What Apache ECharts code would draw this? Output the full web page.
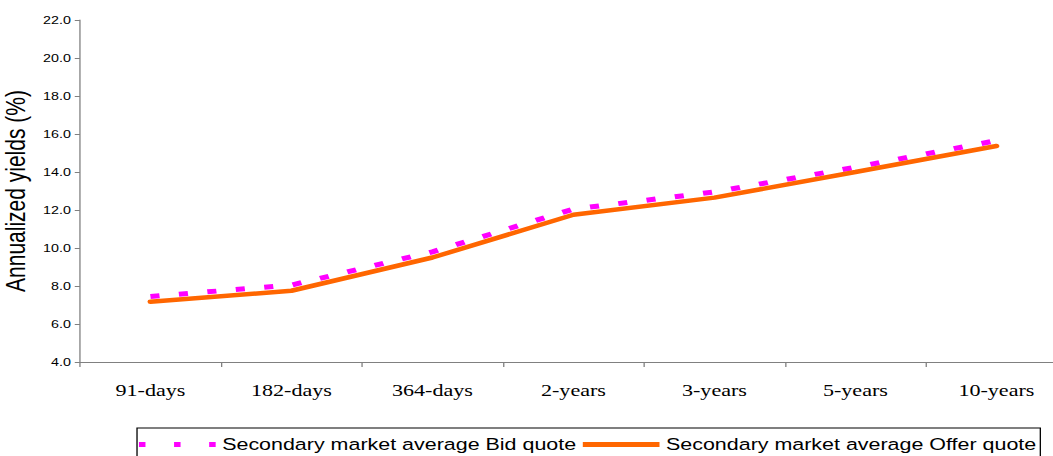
<!DOCTYPE html>
<html>
<head>
<meta charset="utf-8">
<script src="https://cdn.jsdelivr.net/npm/echarts@6/dist/echarts.min.js"></script>
<style>
  html, body { margin: 0; padding: 0; background: #fff; overflow: hidden; }
  #wrap { width: 1053px; height: 456px; overflow: hidden; }
  /* the chart is laid out on a narrower canvas and widened to the page */
  #chart { width: 810px; height: 456px; transform: scaleX(1.3); transform-origin: 0 0; }
</style>
</head>
<body>
<div id="wrap"><div id="chart"></div></div>
<script>
// Yield curve: secondary market average quotes by tenor
const tenors = ['91-days', '182-days', '364-days', '2-years', '3-years', '5-years', '10-years'];
const bidQuote = [7.45, 8.05, 9.8, 12.05, 12.95, 14.25, 15.65];
const offerQuote = [7.17, 7.75, 9.5, 11.75, 12.65, 14.0, 15.37];
const yTicks = { min: 4, max: 22, step: 2 };
const bidName = 'Secondary market average Bid quote';
const offerName = 'Secondary market average Offer quote';

const chart = echarts.init(document.getElementById('chart'), null, { renderer: 'svg' });

chart.setOption({
  animation: false,
  backgroundColor: '#ffffff',
  grid: {
    left: 61.5, top: 20, bottom: 94, width: 759.2,
    containLabel: false, outerBoundsMode: 'none'
  },
  legend: {
    left: 105.4,
    top: 428,
    itemGap: 5,
    itemWidth: 59,
    itemHeight: 5,
    padding: [8, 3, 10, 1.5],
    borderColor: '#000',
    borderWidth: 1,
    textStyle: { fontFamily: 'Liberation Sans', fontSize: 16.5, color: '#000' },
    data: [
      { name: bidName, icon: 'path://M0,0h5v5h-5z M27,0h5v5h-5z M54,0h5v5h-5z' },
      { name: offerName, icon: 'path://M0,0h59v5h-59z' }
    ]
  },
  xAxis: {
    type: 'category',
    data: tenors,
    boundaryGap: true,
    axisLine: { lineStyle: { color: '#808080', width: 1 } },
    axisTick: { show: true, inside: false, length: 5, lineStyle: { color: '#808080' } },
    axisLabel: { fontFamily: 'Liberation Serif', fontSize: 17, color: '#000', margin: 19 },
    splitLine: { show: false }
  },
  yAxis: {
    type: 'value',
    min: yTicks.min,
    max: yTicks.max,
    interval: yTicks.step,
    name: 'Annualized yields (%)',
    nameLocation: 'middle',
    nameGap: 38,
    nameTextStyle: { fontFamily: 'Liberation Sans', fontSize: 21, color: '#000' },
    axisLine: { show: true, lineStyle: { color: '#808080', width: 1 } },
    axisTick: { show: true, inside: false, length: 4, lineStyle: { color: '#808080' } },
    axisLabel: {
      fontFamily: 'Liberation Sans', fontSize: 11, color: '#000', margin: 7,
      formatter: v => v.toFixed(1)
    },
    splitLine: { show: false }
  },
  series: [
    {
      name: bidName,
      type: 'line',
      data: bidQuote,
      symbol: 'none',
      itemStyle: { color: '#FF00FF' },
      lineStyle: { color: '#FF00FF', width: 5, type: [7, 15], cap: 'butt' }
    },
    {
      name: offerName,
      type: 'line',
      data: offerQuote,
      symbol: 'none',
      itemStyle: { color: '#FF6600' },
      lineStyle: { color: '#FF6600', width: 4.5, cap: 'round' }
    }
  ]
});
</script>
</body>
</html>
